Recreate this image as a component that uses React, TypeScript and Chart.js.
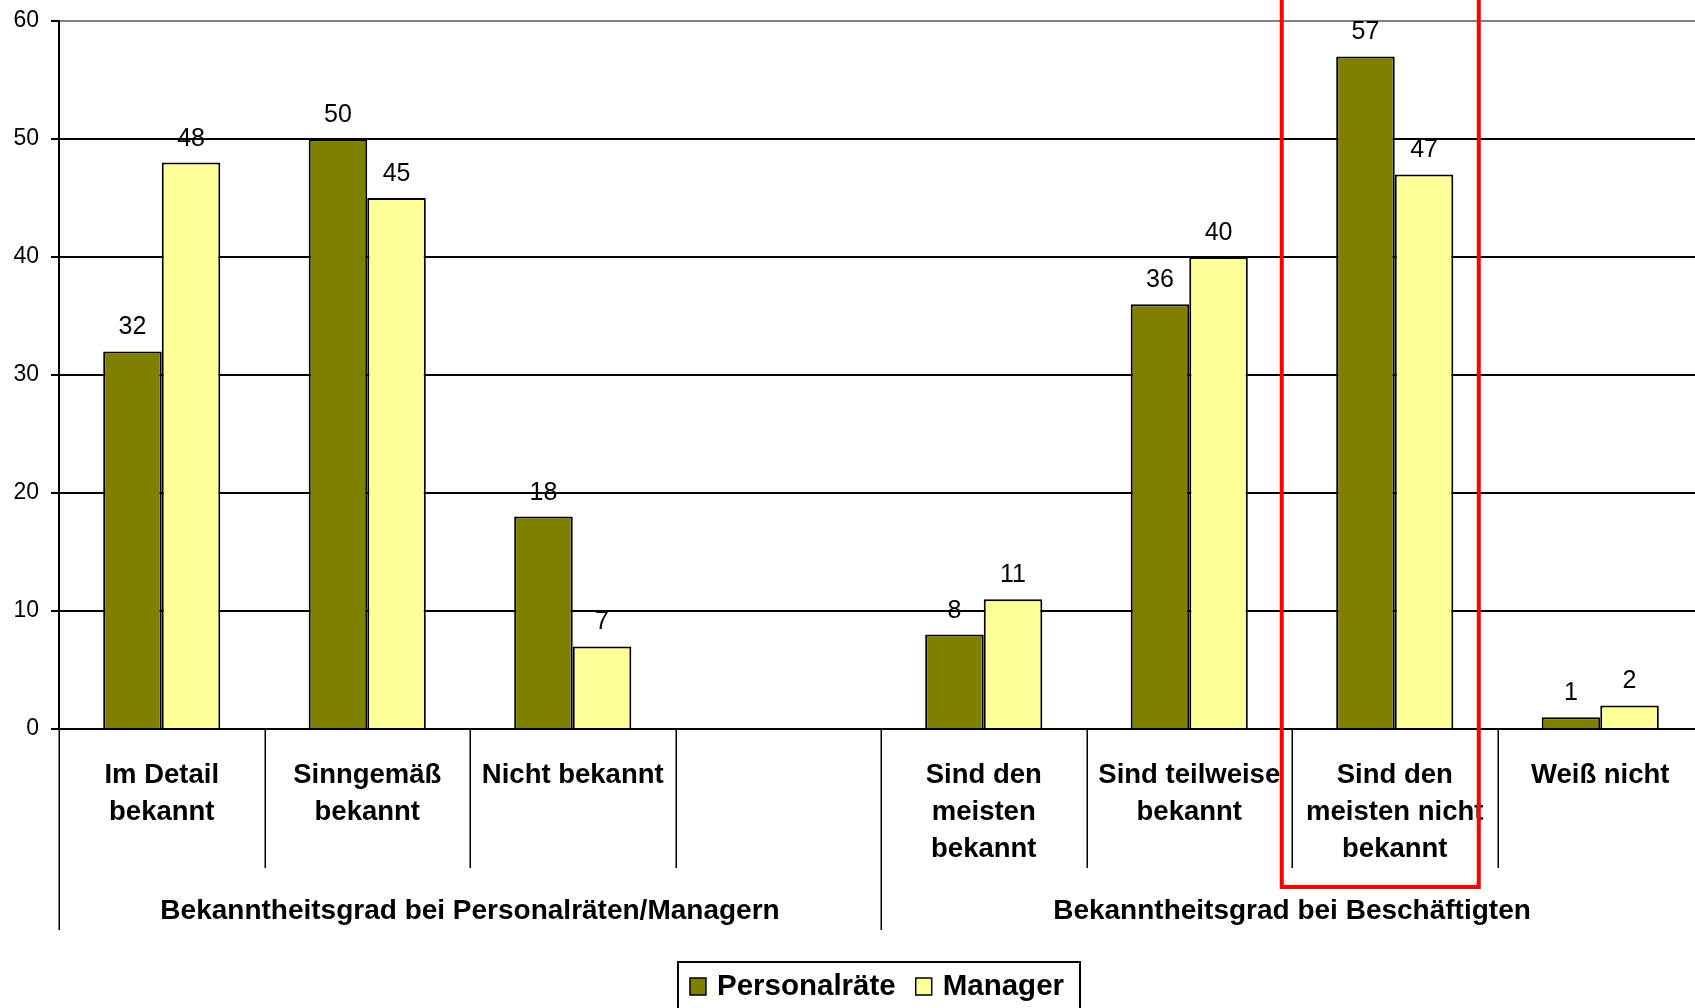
import React, { useEffect, useRef } from "react";
import { Chart, registerables } from "chart.js";

Chart.register(...registerables);

const categoryLines: string[][] = [
  ["Im Detail", "bekannt"],
  ["Sinngemäß", "bekannt"],
  ["Nicht bekannt"],
  [""],
  ["Sind den", "meisten", "bekannt"],
  ["Sind teilweise", "bekannt"],
  ["Sind den", "meisten nicht", "bekannt"],
  ["Weiß nicht"],
];

const groupLabels: string[] = [
  "Bekanntheitsgrad bei Personalräten/Managern",
  "Bekanntheitsgrad bei Beschäftigten",
];
const groupStart: number[] = [0, 4];
const groupEnd: number[] = [3, 7];

const seriesNames: string[] = ["Personalräte", "Manager"];
const personalraete: (number | null)[] = [32, 50, 18, null, 8, 36, 57, 1];
const manager: (number | null)[] = [48, 45, 7, null, 11, 40, 47, 2];

const yMin = 0;
const yMax = 60;
const yStep = 10;

const highlightIndex = 6;

const FONT = '"Liberation Sans", Arial, Helvetica, sans-serif';
const OLIVE = "#808000";
const YELLOW = "#FFFF99";

const overlayPlugin = {
  id: "overlay",
  afterDatasetsDraw(chart: any) {
    const ctx = chart.ctx;
    const area = chart.chartArea;
    const n = categoryLines.length;
    const w = (area.right - area.left) / n;
    const y0 = area.bottom;

    ctx.save();
    // value labels
    ctx.font = `25px ${FONT}`;
    ctx.fillStyle = "#000";
    ctx.textAlign = "center";
    ctx.textBaseline = "alphabetic";
    chart.data.datasets.forEach((ds: any, di: number) => {
      const meta = chart.getDatasetMeta(di);
      meta.data.forEach((el: any, i: number) => {
        const v = ds.data[i];
        if (v === null || v === undefined) return;
        ctx.fillText(String(v), el.x, el.y - 17);
      });
    });

    // category separators
    ctx.strokeStyle = "#000";
    ctx.lineWidth = 1.5;
    const groupBounds = new Set<number>();
    groupStart.forEach((s) => groupBounds.add(s));
    groupEnd.forEach((e) => groupBounds.add(e + 1));
    for (let i = 0; i <= n; i++) {
      const x = Math.round(area.left + i * w) + 0.25;
      const isGroup = groupBounds.has(i);
      ctx.beginPath();
      ctx.moveTo(x, y0);
      ctx.lineTo(x, y0 + (isGroup ? 201 : 139));
      ctx.stroke();
    }

    // category labels
    ctx.font = `bold 27.5px ${FONT}`;
    ctx.textAlign = "center";
    categoryLines.forEach((lines, i) => {
      const cx = area.left + (i + 0.5) * w;
      lines.forEach((t, li) => {
        ctx.fillText(t, cx, y0 + 54 + li * 37);
      });
    });

    // group labels
    ctx.font = `bold 28px ${FONT}`;
    groupLabels.forEach((g, gi) => {
      const l = area.left + groupStart[gi] * w;
      const r = area.left + (groupEnd[gi] + 1) * w;
      ctx.fillText(g, (l + r) / 2, y0 + 190);
    });

    // highlight box
    const hc = area.left + (highlightIndex + 0.5) * w;
    ctx.strokeStyle = "#FF0000";
    ctx.lineWidth = 4;
    ctx.strokeRect(hc - 113, -10, 197, y0 + 158 + 10);

    // legend
    ctx.font = `bold 29.5px ${FONT}`;
    const colors = [OLIVE, YELLOW];
    const sq = 16;
    const gapSq = 11;
    const gapItem = 20;
    const padL = 12;
    const padR = 16;
    const widths = seriesNames.map((s) => ctx.measureText(s).width);
    let total = padL + padR;
    widths.forEach((tw, i) => {
      total += sq + gapSq + tw + (i < widths.length - 1 ? gapItem : 0);
    });
    const lx = (area.left + area.right) / 2 - 2 - total / 2;
    const ly = y0 + 233;
    ctx.strokeStyle = "#000";
    ctx.lineWidth = 2;
    ctx.strokeRect(lx, ly, total, 80);
    let x = lx + padL;
    ctx.textAlign = "left";
    seriesNames.forEach((s, i) => {
      ctx.fillStyle = colors[i];
      ctx.fillRect(x, ly + 16, sq, 17);
      ctx.lineWidth = 1.5;
      ctx.strokeRect(x, ly + 16, sq, 17);
      x += sq + gapSq;
      ctx.fillStyle = "#000";
      ctx.fillText(s, x, ly + 33);
      x += widths[i] + gapItem;
    });
    ctx.restore();
  },
};

export default function App() {
  const ref = useRef<HTMLCanvasElement | null>(null);

  useEffect(() => {
    if (!ref.current) return;
    Chart.defaults.font.family = FONT;
    const chart = new Chart(ref.current, {
      type: "bar",
      data: {
        labels: categoryLines.map((l) => l.join(" ")),
        datasets: [
          {
            label: seriesNames[0],
            data: personalraete,
            backgroundColor: OLIVE,
            borderColor: "#000",
            borderWidth: 2,
            categoryPercentage: 0.57,
            barPercentage: 1,
          },
          {
            label: seriesNames[1],
            data: manager,
            backgroundColor: YELLOW,
            borderColor: "#000",
            borderWidth: 2,
            categoryPercentage: 0.57,
            barPercentage: 1,
          },
        ],
      },
      options: {
        responsive: false,
        animation: false,
        devicePixelRatio: 1,
        layout: { padding: { left: 0, top: 21, right: 17, bottom: 279 } },
        plugins: {
          legend: { display: false },
          tooltip: { enabled: false },
        },
        scales: {
          x: {
            display: false,
            grid: { display: false },
          },
          y: {
            min: yMin,
            max: yMax,
            afterFit: (scale: any) => {
              scale.width = 59;
              scale.paddingTop = 0;
              scale.paddingBottom = 0;
            },
            ticks: {
              stepSize: yStep,
              padding: 12,
              color: "#000",
              font: { size: 23, family: FONT },
            },
            grid: {
              color: (c: any) => (c.tick && c.tick.value === yMax ? "#808080" : "#000"),
              lineWidth: 2,
              tickLength: 8,
              tickColor: "#000",
            },
            border: { display: true, color: "#000", width: 2 },
          },
        },
      },
      plugins: [overlayPlugin],
    });
    return () => chart.destroy();
  }, []);

  return (
    <div
      style={{
        position: "fixed",
        left: 0,
        top: 0,
        width: 1695,
        height: 1008,
        overflow: "hidden",
        background: "#fff",
      }}
    >
      <canvas ref={ref} width={1720} height={1008} style={{ display: "block" }} />
    </div>
  );
}
